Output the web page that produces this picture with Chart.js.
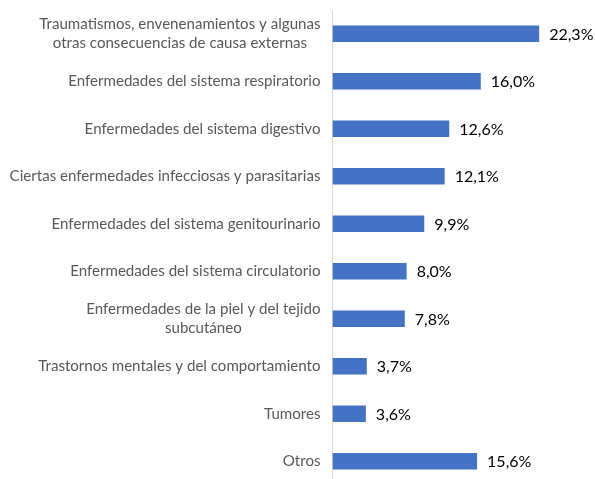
<!DOCTYPE html>
<html><head><meta charset="utf-8">
<script src="https://cdn.jsdelivr.net/npm/chart.js@4/dist/chart.umd.min.js"></script>
<style>html,body{margin:0;padding:0;background:#fff;overflow:hidden}#wrap{width:595px;height:485px}</style>
</head><body><div id="wrap"><canvas id="c" width="595" height="485"></canvas></div>
<script>
const categories = [
  ["Traumatismos, envenenamientos y algunas","otras consecuencias de causa externas"],
  ["Enfermedades del sistema respiratorio"],
  ["Enfermedades del sistema digestivo"],
  ["Ciertas enfermedades infecciosas y parasitarias"],
  ["Enfermedades del sistema genitourinario"],
  ["Enfermedades del sistema circulatorio"],
  ["Enfermedades de la piel y del tejido","subcutáneo"],
  ["Trastornos mentales y del comportamiento"],
  ["Tumores"],
  ["Otros"]
];
const values = [22.3, 16.0, 12.6, 12.1, 9.9, 8.0, 7.8, 3.7, 3.6, 15.6];
const valueLabels = ["22,3%","16,0%","12,6%","12,1%","9,9%","8,0%","7,8%","3,7%","3,6%","15,6%"];

const labelFont = '15.1px Lato, "Open Sans", sans-serif';
const valueFont = '16px Lato, "Open Sans", sans-serif';

const drawLabels = {
  id: 'drawLabels',
  afterDatasetsDraw(chart) {
    const ctx = chart.ctx;
    const y = chart.scales.y;
    const meta = chart.getDatasetMeta(0);
    ctx.save();
    ctx.textBaseline = 'middle';
    ctx.font = labelFont;
    ctx.fillStyle = '#595959';
    ctx.textAlign = 'center';
    const lh = 18.5;
    categories.forEach((lines, i) => {
      const cy = y.getPixelForValue(i);
      const w = Math.max(...lines.map(l => ctx.measureText(l).width));
      const cx = chart.chartArea.left - 12 - w / 2;
      const start = cy - (lines.length - 1) * lh / 2;
      lines.forEach((l, k) => ctx.fillText(l, cx, start + k * lh));
    });
    ctx.font = valueFont;
    ctx.fillStyle = '#000';
    ctx.textAlign = 'left';
    meta.data.forEach((bar, i) => {
      ctx.fillText(valueLabels[i], bar.x + 10, bar.y + 1);
    });
    ctx.restore();
  }
};

new Chart(document.getElementById('c'), {
  type: 'bar',
  data: {
    labels: categories.map(l => l.join(' ')),
    datasets: [{ data: values, backgroundColor: '#4472C4', borderWidth: 0,
      categoryPercentage: 1, barPercentage: 0.35 }]
  },
  options: {
    indexAxis: 'y',
    responsive: false,
    animation: false,
    layout: { padding: { top: 10, right: 3, bottom: 0, left: 0 } },
    plugins: { legend: { display: false }, tooltip: { enabled: false } },
    scales: {
      x: { display: false, min: 0, max: 28 },
      y: {
        grid: { display: false, drawTicks: false },
        border: { display: true, color: '#d9d9d9', width: 1 },
        ticks: { display: false },
        afterFit(s) { s.width = 332.5; }
      }
    }
  },
  plugins: [drawLabels]
});
</script></body></html>
